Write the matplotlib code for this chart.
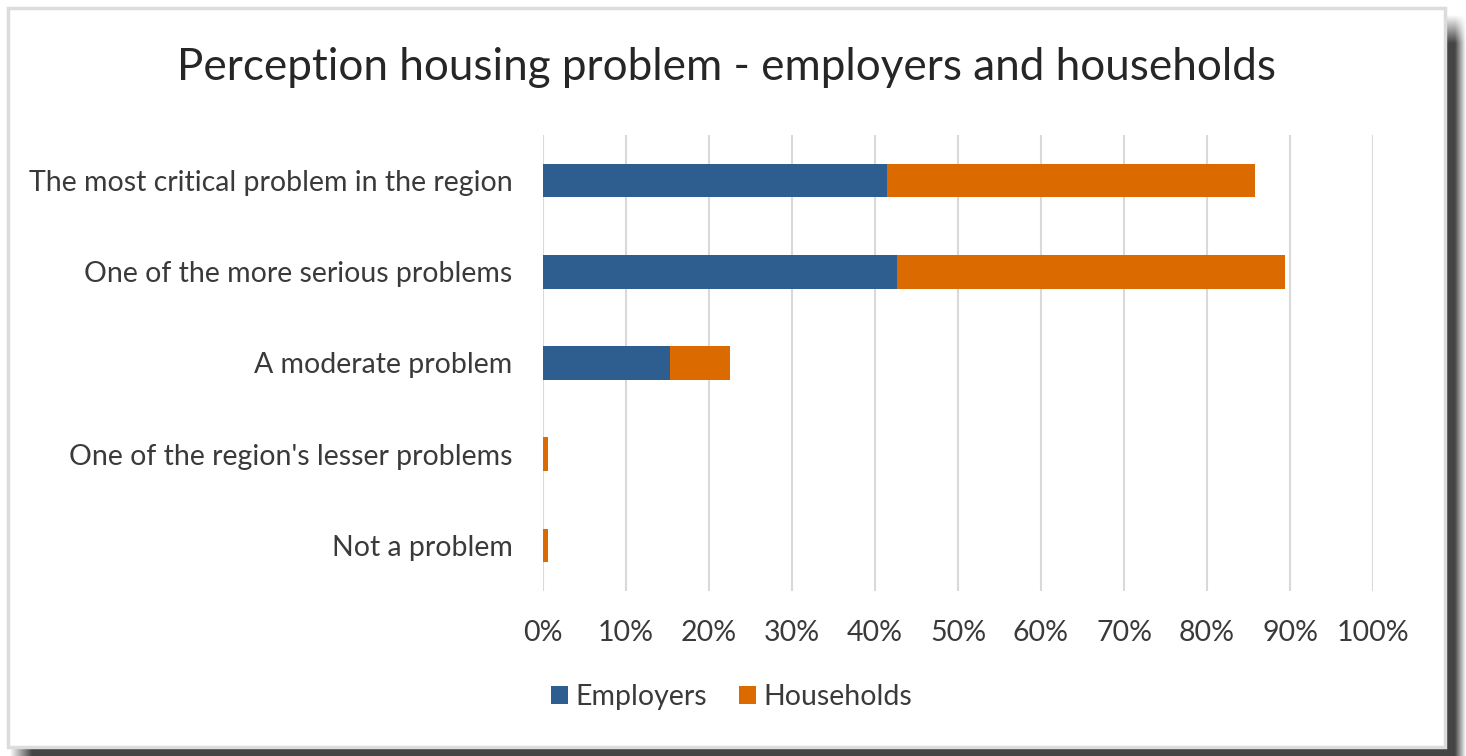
import numpy as np
import matplotlib
matplotlib.use("Agg")
import matplotlib.pyplot as plt
from matplotlib.patches import Rectangle, Patch
from matplotlib.ticker import MultipleLocator, PercentFormatter

plt.rcParams['font.family'] = ['Lato', 'DejaVu Sans']

# Survey answers, top to bottom
categories = [
    "The most critical problem in the region",
    "One of the more serious problems",
    "A moderate problem",
    "One of the region's lesser problems",
    "Not a problem",
]
employers = [41.5, 42.6, 15.3, 0.0, 0.0]
households = [44.3, 46.8, 7.2, 0.6, 0.6]

title = "Perception housing problem - employers and households"
series_names = ["Employers", "Households"]
colors = ["#2e5d90", "#db6a00"]
text_color = "#3a3a3a"

W, H = 1466, 756
fig = plt.figure(figsize=(W / 100, H / 100), dpi=100)
fig.patch.set_facecolor("white")

# card with a drop shadow on the right and bottom
bg = fig.add_axes([0, 0, 1, 1], zorder=0)
bg.set_xlim(0, W)
bg.set_ylim(H, 0)
bg.axis("off")

xs = np.arange(W) + 0.5
ys = np.arange(H) + 0.5
alpha = np.zeros((H, W))
right_h = np.clip((1466 - xs) / 11.0, 0, 1) * (xs >= 1445)
right_v = np.clip((ys - 15) / 28.0, 0, 1)
alpha = np.maximum(alpha, np.outer(right_v, right_h))
bottom_h = np.clip((xs - 10) / 22.0, 0, 1) * np.clip((1466 - xs) / 11.0, 0, 1)
bottom_v = (ys >= 747).astype(float)
alpha = np.maximum(alpha, np.outer(bottom_v, bottom_h))
shadow = np.zeros((H, W, 4))
shadow[..., :3] = 0x44 / 255
shadow[..., 3] = alpha
bg.imshow(shadow, extent=(0, W, H, 0), interpolation="bilinear", aspect="auto")
bg.add_patch(Rectangle((7.5, 8), 1437.5, 739, facecolor="white",
                       edgecolor="#dcdcdc", lw=2.5, zorder=3))

ax = fig.add_axes([543 / W, 1 - 591 / H, 830 / W, 456 / H], zorder=2)
ax.patch.set_alpha(0)

y = np.arange(len(categories))
bar_h = 0.37
ax.barh(y, employers, height=bar_h, color=colors[0], zorder=3)
ax.barh(y, households, left=employers, height=bar_h, color=colors[1], zorder=3)

ax.set_xlim(0, 100)
ax.set_ylim(len(categories) - 0.5, -0.5)
ax.xaxis.set_major_locator(MultipleLocator(10))
ax.xaxis.set_major_formatter(PercentFormatter(decimals=0))
ax.set_yticks(y)
ax.set_yticklabels(categories)
ax.grid(axis="x", color="#d9d9d9", lw=1.5, zorder=0)
ax.set_axisbelow(True)
for s in ax.spines.values():
    s.set_visible(False)
ax.tick_params(axis="both", length=0, labelsize=20.5, labelcolor=text_color)
ax.tick_params(axis="x", pad=21)
ax.tick_params(axis="y", pad=22)

fig.text(0.4956, 1 - 68 / H, title, ha="center", va="center",
         fontsize=31.7, color="#262626", zorder=5)

handles = [Patch(facecolor=c, edgecolor="none") for c in colors]
fig.legend(handles, series_names, loc="center", bbox_to_anchor=(0.499, 1 - 697 / H),
           ncol=2, frameon=False, fontsize=20.5, handlelength=0.6, handleheight=0.55,
           handletextpad=0.25, columnspacing=1.15, labelcolor=text_color)

fig.savefig("out.png", dpi=100)
